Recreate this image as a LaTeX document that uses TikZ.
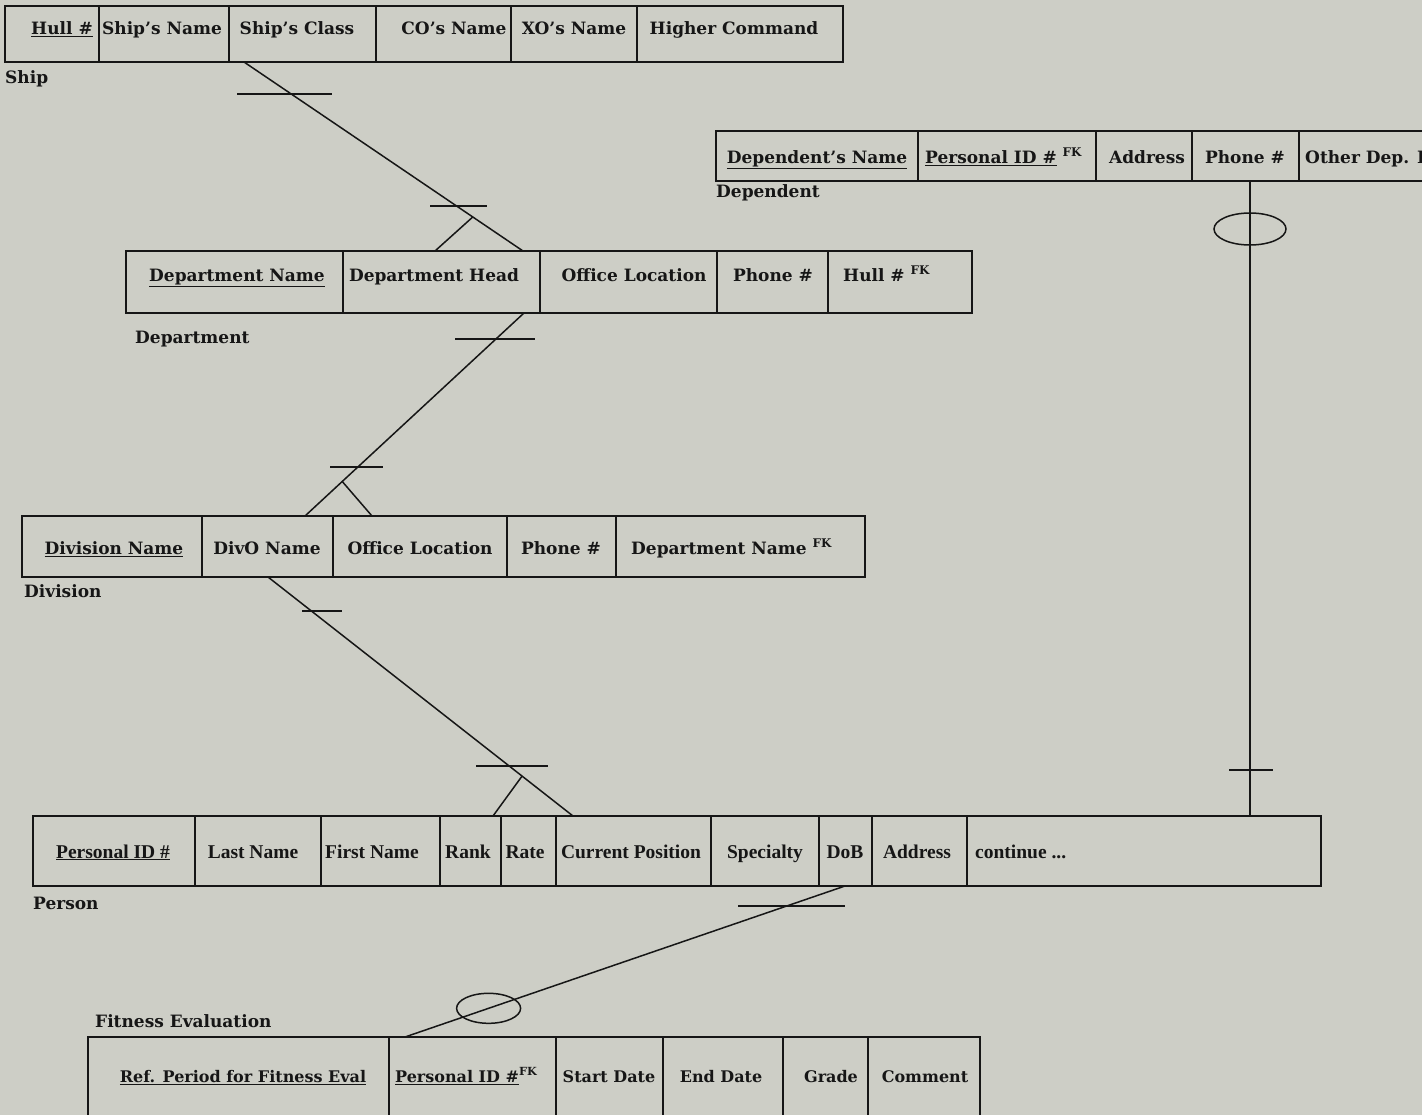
\documentclass[tikz,border=0pt]{standalone}
\usepackage{fontspec}
\setmainfont{DejaVu Serif}
\newfontfamily\personfont{Liberation Serif}
\usetikzlibrary{calc}
\definecolor{paper}{RGB}{205,206,198}
\definecolor{ink}{RGB}{22,22,22}
\newcommand{\pk}[1]{\underline{#1}}
\newcommand{\fk}{\textsuperscript{FK}}

\begin{document}
\begin{tikzpicture}[x=1pt,y=-1pt,
    cell/.style={draw=ink, line width=1.8pt},
    attr/.style={anchor=mid, inner sep=0pt, yshift=-3.5pt, text=ink, font=\fontsize{17}{20}\selectfont\bfseries},
    lattr/.style={attr, anchor=mid west},
    pattr/.style={attr, font=\personfont\fontsize{19.5}{22}\selectfont\bfseries},
    fattr/.style={attr, font=\fontsize{16}{19}\selectfont\bfseries},
    ename/.style={anchor=mid west, inner sep=0pt, yshift=-3.5pt, text=ink, font=\fontsize{17}{20}\selectfont\bfseries},
    link/.style={draw=ink, line width=1.5pt},
    bar/.style={draw=ink, line width=1.5pt}]
\useasboundingbox (0,0) rectangle (1422,1115);
\fill[paper] (0,0) rectangle (1422,1115);
\clip (0,0) rectangle (1422,1115);

% Ship
\foreach \a/\b in {5/99,99/229,229/376,376/511,511/637,637/843}
  \draw[cell] (\a,6) rectangle (\b,62);
\node[attr] (hull) at (62,28) {\pk{Hull \#}};
\node[attr] (sname) at (162,28) {Ship's Name};
\node[attr] (sclass) at (297,28) {Ship's Class};
\node[attr] (coname) at (454,28) {CO's Name};
\node[attr] (xoname) at (574,28) {XO's Name};
\node[attr] (hcmd) at (734,28) {Higher Command};
\node[ename] (ship) at (5,77) {Ship};

% Dependent
\foreach \a/\b in {716/918,918/1096,1096/1192,1192/1299,1299/1460}
  \draw[cell] (\a,131) rectangle (\b,181);
\node[attr] (depname) at (817,157) {\pk{Dependent's Name}};
\node[lattr] (deppid) at (925,157) {\pk{Personal ID \#} \fk};
\node[attr] (depaddr) at (1147,157) {Address};
\node[attr] (depphone) at (1245,157) {Phone \#};
\node[lattr] (depother) at (1305,157) {Other Dep. I};
\node[ename] (dependent) at (716,191) {Dependent};

% Department
\foreach \a/\b in {126/343,343/540,540/717,717/828,828/972}
  \draw[cell] (\a,251) rectangle (\b,313);
\node[attr] (dname) at (237,275) {\pk{Department Name}};
\node[attr] (dhead) at (434,275) {Department Head};
\node[attr] (doffice) at (634,275) {Office Location};
\node[attr] (dphone) at (773,275) {Phone \#};
\node[lattr] (dhull) at (843,275) {Hull \# \fk};
\node[ename] (department) at (135,337) {Department};

% Division
\foreach \a/\b in {22/202,202/333,333/507,507/616,616/865}
  \draw[cell] (\a,516) rectangle (\b,577);
\node[attr] (vname) at (114,548) {\pk{Division Name}};
\node[attr] (divo) at (267,548) {DivO Name};
\node[attr] (voffice) at (420,548) {Office Location};
\node[attr] (vphone) at (561,548) {Phone \#};
\node[lattr] (vdept) at (631,548) {Department Name \fk};
\node[ename] (division) at (24,591) {Division};

% Person
\foreach \a/\b in {33/195,195/321,321/440,440/501,501/556,556/711,711/819,819/872,872/967,967/1321}
  \draw[cell] (\a,816) rectangle (\b,886);
\node[pattr] (pid) at (113,852) {\pk{Personal ID \#}};
\node[pattr] (plast) at (253,852) {Last Name};
\node[pattr] (pfirst) at (372,852) {First Name};
\node[pattr] (prank) at (468,852) {Rank};
\node[pattr] (prate) at (525,852) {Rate};
\node[pattr] (ppos) at (631,852) {Current Position};
\node[pattr] (pspec) at (765,852) {Specialty};
\node[pattr] (pdob) at (845,852) {DoB};
\node[pattr] (paddr) at (917,852) {Address};
\node[pattr, anchor=mid west] (pcont) at (975,852) {continue ...};
\node[ename] (person) at (33,903) {Person};

% Fitness Evaluation
\foreach \a/\b in {88/389,389/556,556/663,663/783,783/868,868/980}
  \draw[cell] (\a,1037) rectangle (\b,1140);
\node[fattr] (fref) at (243,1076) {\pk{Ref. Period for Fitness Eval}};
\node[fattr, anchor=mid west] (fpid) at (395,1076) {\pk{Personal ID \#}\fk};
\node[fattr] (fstart) at (609,1076) {Start Date};
\node[fattr] (fend) at (721,1076) {End Date};
\node[fattr] (fgrade) at (831,1076) {Grade};
\node[fattr] (fcomment) at (925,1076) {Comment};
\node[ename] (fitness) at (95,1021) {Fitness Evaluation};

% Ship -- Department
\coordinate (shipF) at (244,62);
\coordinate (deptF) at (523,251);
\coordinate (deptL) at (435,251);
\coordinate (deptK) at ($(shipF)!0.82!(deptF)$);
\draw[link] (shipF) -- (deptF);
\draw[link] (deptK) -- (deptL);
\draw[bar] (237,94) -- (332,94);
\draw[bar] (430,206) -- (487,206);

% Department -- Division
\coordinate (deptB) at (524,313);
\coordinate (divF) at (305,516);
\coordinate (divR) at (372,516);
\coordinate (divK) at ($(deptB)!0.83!(divF)$);
\draw[link] (deptB) -- (divF);
\draw[link] (divK) -- (divR);
\draw[bar] (455,339) -- (535,339);
\draw[bar] (330,467) -- (383,467);

% Division -- Person
\coordinate (divB) at (268,577);
\coordinate (persF) at (573,816);
\coordinate (persL) at (493,816);
\coordinate (persK) at ($(divB)!0.833!(persF)$);
\draw[link] (divB) -- (persF);
\draw[link] (persK) -- (persL);
\draw[bar] (302,611) -- (342,611);
\draw[bar] (476,766) -- (548,766);

% Dependent -- Person
\coordinate (depB) at (1250,181);
\coordinate (persT) at (1250,816);
\draw[link] (depB) -- (persT);
\draw[link] (1250,229) ellipse [x radius=36pt, y radius=16pt];
\draw[bar] (1229,770) -- (1273,770);

% Person -- Fitness Evaluation
\coordinate (persB) at (845,886);
\coordinate (fitF) at (405,1037);
\draw[link] (persB) -- (fitF);
\draw[bar] (738,906) -- (845,906);
\draw[link] ($(persB)!0.81!(fitF)$) ellipse [x radius=32pt, y radius=15pt];
\end{tikzpicture}
\end{document}
